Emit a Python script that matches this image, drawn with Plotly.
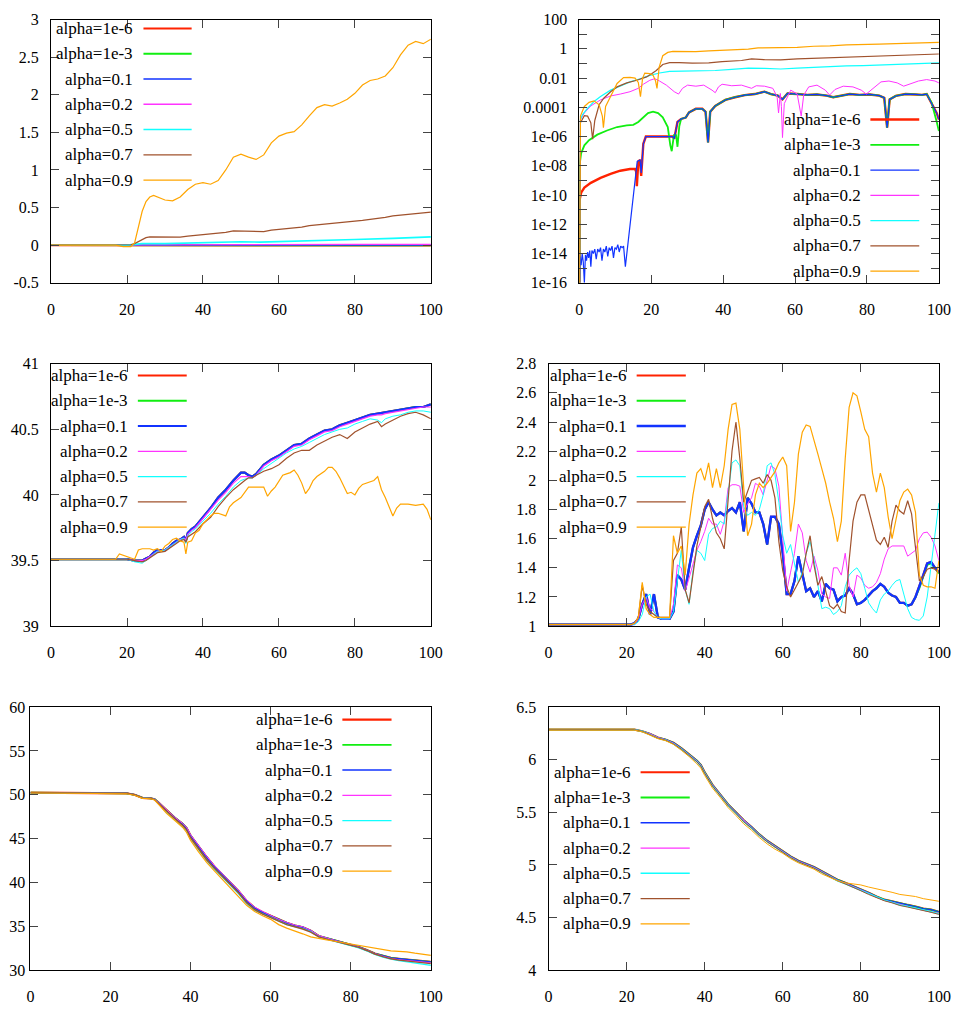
import plotly.graph_objects as go

# page is 971x1017 with the browser's 8px body margin -> figure is 16px smaller
OFF = 8
W, H = 971 - 2 * OFF, 1017 - 2 * OFF
FONT = "Liberation Serif, Times New Roman, Times, serif"

labels = ["alpha=1e-6", "alpha=1e-3", "alpha=0.1", "alpha=0.2",
          "alpha=0.5", "alpha=0.7", "alpha=0.9"]
colors = ["#ff2200", "#11ee11", "#1133ff", "#ff33ff", "#11ffff", "#a0522d", "#ffa500"]

x_ticks = [0, 20, 40, 60, 80, 100]

# ---------------- panel 1 (top left) ----------------
p1_x_flat = [0, 20, 22, 40, 60, 80, 100]
p1_a1e6 = [0.0, 0.0, -0.003, -0.004, -0.004, -0.004, -0.004]
p1_a1e3 = [0.0, 0.0, -0.002, -0.003, -0.003, -0.003, -0.003]
p1_a01 = [0.0, 0.0, 0.0, 0.0, 0.0, 0.0, 0.0]
p1_a02 = [0.0, 0.0, 0.002, 0.005, 0.007, 0.009, 0.011]
p1_x_c = [0, 20, 22, 24, 30, 40, 50, 55, 60, 70, 80, 90, 100]
p1_a05 = [0.0, 0.0, 0.01, 0.02, 0.02, 0.03, 0.045, 0.04, 0.045, 0.06, 0.075, 0.09, 0.11]
p1_x = [0, 10, 17, 19, 21, 22, 23, 24, 25, 26, 27, 28,
        30, 32, 34, 36, 38, 40, 42, 44, 46, 48, 50, 52, 54, 56, 58, 60,
        62, 64, 66, 68, 70, 72, 74, 76, 78, 80, 82, 84, 86, 88, 90, 92,
        94, 96, 98, 100]
p1_a07 = [0.0, 0.0, 0.0, 0.005, 0.005, 0.02, 0.05, 0.08, 0.10, 0.11, 0.11, 0.105,
          0.10, 0.10, 0.105, 0.12, 0.13, 0.14, 0.145, 0.15, 0.17, 0.19, 0.19, 0.18,
          0.18, 0.18, 0.20, 0.21, 0.22, 0.23, 0.24, 0.26, 0.27, 0.28, 0.28, 0.29,
          0.31, 0.32, 0.33, 0.34, 0.35, 0.37, 0.39, 0.40, 0.41, 0.42, 0.43, 0.44]
p1_a09 = [0.0, 0.0, 0.0, -0.02, -0.02, 0.03, 0.25, 0.45, 0.58, 0.64, 0.66, 0.64,
          0.60, 0.59, 0.64, 0.74, 0.81, 0.83, 0.81, 0.86, 1.0, 1.17, 1.21, 1.17,
          1.14, 1.20, 1.36, 1.45, 1.49, 1.51, 1.60, 1.72, 1.83, 1.87, 1.85, 1.89,
          1.94, 2.02, 2.13, 2.19, 2.21, 2.25, 2.36, 2.53, 2.66, 2.71, 2.68, 2.74]

# ---------------- panel 2 (top right, log scale) ----------------
p2_x_head_1e6 = [0, 0.1, 0.5, 1.4, 3.2, 5.9, 8.7, 11.4, 14.1, 15.5, 15.8, 16.0, 16.4, 16.9, 17.2]
p2_head_1e6 = [1e-17, 5.0e-11, 1.45e-10, 3.2e-10, 6.8e-10, 1.5e-9, 2.75e-9, 4.6e-9,
               6.0e-9, 6.0e-9, 4.0e-9, 4.0e-10, 2.0e-8, 2.5e-8, 2.0e-9]
p2_x_head_01 = [0, 0.2, 0.5, 0.8, 1.1, 1.4, 1.7, 2.0, 2.3, 2.6, 2.9, 3.2, 3.5, 3.9,
                4.3, 4.7, 5.1, 5.5, 5.9, 6.3, 6.7, 7.1, 7.5, 7.9, 8.3, 8.7, 9.1, 9.5,
                9.9, 10.3, 10.7, 11.1, 11.5, 11.9, 12.3, 12.6, 12.8, 16.1, 16.9, 17.2]
p2_head_01 = [1e-17, 6.3e-15, 1.6e-15, 1.0e-14, 2.5e-15, 1.0e-16, 7.9e-15, 3.2e-15,
              1.26e-14, 5.0e-15, 1.6e-14, 1.26e-15, 1.6e-14, 1.0e-14, 2.0e-14, 4.0e-15,
              2.0e-14, 1.26e-14, 2.5e-14, 3.2e-15, 2.0e-14, 1.26e-14, 3.2e-14, 6.3e-15,
              2.5e-14, 1.6e-14, 3.2e-14, 5.0e-15, 2.5e-14, 2.0e-14, 4.0e-14, 1.26e-14,
              3.2e-14, 2.5e-14, 3.2e-14, 5.0e-15, 1.26e-15, 2.0e-8, 2.5e-8, 3.2e-9]
p2_x_mid = [17.8, 18.5, 20.5, 23.2, 25.0, 26.0, 26.4, 27.3]
p2_mid = [3.2e-7, 1.0e-6, 1.0e-6, 8.9e-7, 8.9e-7, 1.0e-6, 7.1e-7, 1.0e-5]
p2_x_head_1e3 = [0, 0.1, 0.5, 1.4, 2.7, 5.0, 7.7, 10.5, 13.2, 15.0, 16.4, 17.8, 19.1,
                 20.5, 21.9, 23.2, 24.6, 25.3, 25.7, 26.3, 26.9, 27.3, 27.8]
p2_head_1e3 = [1e-17, 1.26e-8, 7.1e-8, 2.5e-7, 5.6e-7, 1.35e-6, 2.6e-6, 4.5e-6, 5.75e-6,
               6.3e-6, 1.0e-5, 2.1e-5, 4.0e-5, 5.0e-5, 4.0e-5, 2.1e-5, 4.5e-6, 2.5e-7,
               1.0e-7, 1.26e-6, 1.26e-6, 2.0e-7, 5.0e-6]
p2_x_tail = [28.3, 29.6, 30.5, 32.4, 34.2, 35.1, 35.8, 36.4, 37.8, 40.6, 43.3, 46.0,
             48.8, 51.5, 53.3, 55.2, 56.5, 57.9, 60.6, 63.4, 66.1, 68.8, 70.6, 72.5,
             75.2, 77.9, 80.7, 83.4, 84.8, 85.6, 86.3, 88.0, 90.7, 93.4, 95.3, 96.6, 98.0]
p2_tail = [1.6e-5, 2.0e-5, 4.5e-5, 7.9e-5, 7.9e-5, 5.0e-5, 4.0e-7, 5.0e-5, 1.26e-4,
           3.2e-4, 4.9e-4, 6.9e-4, 8.1e-4, 1.17e-3, 8.1e-4, 6.3e-4, 3.5e-4, 8.9e-4,
           8.1e-4, 7.1e-4, 7.6e-4, 6.3e-4, 4.9e-4, 6.3e-4, 8.1e-4, 7.1e-4, 7.6e-4,
           6.3e-4, 4.5e-4, 4.0e-6, 3.5e-4, 6.0e-4, 8.1e-4, 7.6e-4, 7.1e-4, 8.1e-4, 2.0e-4]
p2_x_end = [99.4, 100]
p2_end_01 = [4.0e-5, 1.45e-5]
p2_end_1e3 = [1.0e-5, 2.4e-6]
p2_x_a02 = [0, 0.3, 1.4, 3.2, 5.9, 8.7, 11.4, 14.1, 16.4, 17.8, 19.6, 21.0, 22.3, 24.2,
            26.4, 27.6, 28.7, 30.1, 32.4, 34.6, 36.9, 37.8, 38.7, 39.7, 42.4, 45.1, 47.9,
            49.2, 51.5, 53.8, 55.0, 55.4, 55.9, 56.2, 56.5, 57.0, 58.8, 60.6, 61.7, 62.4,
            63.8, 66.1, 68.4, 69.6, 71.1, 73.4, 76.1, 78.4, 79.8, 81.6, 83.9, 86.1, 88.4,
            90.2, 92.5, 94.3, 96.6, 98.9, 100]
p2_a02 = [1e-17, 1.45e-5, 4.1e-5, 1.26e-4, 3.2e-4, 6.0e-4, 8.1e-4, 1.17e-3, 2.0e-3,
          3.8e-3, 7.1e-3, 9.1e-3, 6.3e-3, 3.3e-3, 1.17e-3, 8.1e-4, 2.0e-3, 3.3e-3, 2.8e-3,
          3.3e-3, 1.5e-3, 1.0e-3, 2.5e-3, 3.8e-3, 3.0e-3, 3.3e-3, 2.0e-3, 3.0e-3, 2.8e-3,
          2.0e-3, 5.4e-4, 4.1e-5, 8.9e-4, 1.12e-4, 8.5e-7, 1.8e-4, 1.5e-3, 8.1e-4, 2.5e-5,
          6.9e-4, 2.5e-3, 3.3e-3, 1.5e-3, 6.9e-4, 1.66e-3, 2.8e-3, 2.5e-3, 1.5e-3, 8.1e-4,
          2.0e-3, 5.5e-3, 6.3e-3, 4.7e-3, 2.8e-3, 4.3e-3, 6.3e-3, 7.9e-3, 6.3e-3, 4.7e-3]
p2_x_a05 = [0, 0.3, 0.9, 2.3, 4.1, 5.9, 8.7, 11.4, 14.1, 16.9, 19.6, 22.3, 25.1, 28.7,
            33.3, 37.8, 42.4, 47.0, 51.5, 56.0, 60.6, 65.2, 69.7, 74.3, 78.9, 83.4, 88.0,
            92.5, 100]
p2_a05 = [1e-17, 1.45e-5, 3.2e-5, 8.9e-5, 2.5e-4, 5.4e-4, 1.5e-3, 2.8e-3, 5.5e-3, 9.1e-3,
          1.55e-2, 2.24e-2, 2.9e-2, 3.0e-2, 3.0e-2, 3.3e-2, 3.9e-2, 4.8e-2, 4.6e-2, 4.2e-2,
          4.8e-2, 5.6e-2, 6.2e-2, 6.9e-2, 7.2e-2, 7.9e-2, 8.3e-2, 9.3e-2, 0.11]
p2_x_a07 = [0, 0.3, 1.4, 2.3, 3.2, 3.7, 4.3, 5.5, 6.8, 8.7, 10.5, 13.2, 16.0, 17.3, 18.7,
            20.1, 21.4, 23.2, 25.1, 27.8, 31.4, 36.0, 39.7, 45.1, 47.9, 51.5, 56.0, 60.6,
            65.2, 69.7, 74.3, 78.9, 83.4, 88.0, 92.5, 100]
p2_a07 = [1e-17, 8.7e-6, 2.7e-5, 2.5e-5, 8.7e-6, 6.6e-7, 1.26e-5, 1.5e-4, 4.2e-4, 1.17e-3,
          2.5e-3, 4.7e-3, 7.1e-3, 9.5e-3, 1.2e-2, 2.0e-2, 3.3e-2, 8.5e-2, 0.115, 0.115,
          0.105, 0.11, 0.135, 0.16, 0.204, 0.182, 0.174, 0.204, 0.224, 0.263, 0.288,
          0.288, 0.339, 0.355, 0.398, 0.447]
p2_x_a09 = [0, 0.3, 1.4, 2.7, 4.1, 5.5, 6.4, 6.7, 7.3, 8.7, 10.5, 12.3, 14.1, 15.5, 16.4,
            17.0, 17.6, 18.2, 19.6, 20.5, 21.2, 21.6, 22.2, 23.2, 24.6, 26.0, 28.7, 32.4,
            36.0, 39.7, 43.3, 47.0, 49.7, 53.3, 56.0, 60.6, 65.2, 69.7, 74.3, 78.9, 83.4,
            88.0, 92.5, 96.2, 100]
p2_a09 = [1e-17, 2.5e-5, 1.15e-4, 2.2e-4, 2.75e-4, 1.5e-4, 2.5e-5, 4.0e-6, 1.15e-4, 6.0e-4,
          4.3e-3, 1.07e-2, 1.12e-2, 1.0e-2, 5.0e-3, 5.4e-4, 1.0e-2, 2.2e-2, 2.0e-2, 1.6e-2,
          6.3e-3, 1.95e-3, 5.6e-2, 0.34, 0.575, 0.68, 0.68, 0.65, 0.74, 0.81, 0.81, 0.95,
          1.17, 1.17, 1.12, 1.26, 1.51, 1.58, 1.86, 1.86, 2.09, 2.29, 2.51, 2.82, 2.82]

# ---------------- panel 3 (middle left) ----------------
p3_x = [0, 10, 20, 22, 24, 25, 26, 27, 28, 30, 31, 32, 33, 34, 35, 35.5, 36, 37, 38, 40,
        42, 44, 46, 48, 50, 51, 52, 53, 54, 56, 58, 60, 62, 64, 66, 68, 70, 72, 74, 76,
        78, 80, 82, 84, 86, 87, 88, 90, 92, 94, 96, 98, 100]
p3_a1e6 = [39.51, 39.51, 39.51, 39.50, 39.50, 39.515, 39.53, 39.56, 39.58, 39.58, 39.60,
           39.63, 39.65, 39.66, 39.68, 39.65, 39.71, 39.74, 39.76, 39.83, 39.90, 39.98,
           40.04, 40.11, 40.17, 40.17, 40.15, 40.14, 40.16, 40.23, 40.27, 40.30, 40.34,
           40.38, 40.39, 40.43, 40.46, 40.49, 40.50, 40.53, 40.55, 40.57, 40.59, 40.61,
           40.62, 40.625, 40.63, 40.64, 40.65, 40.66, 40.67, 40.67, 40.69]
p3_a1e3 = [39.51, 39.51, 39.51, 39.50, 39.50, 39.515, 39.53, 39.56, 39.58, 39.58, 39.60,
           39.63, 39.65, 39.66, 39.68, 39.65, 39.71, 39.74, 39.76, 39.83, 39.90, 39.98,
           40.04, 40.11, 40.17, 40.17, 40.15, 40.14, 40.16, 40.23, 40.27, 40.30, 40.34,
           40.38, 40.39, 40.43, 40.46, 40.49, 40.50, 40.53, 40.55, 40.57, 40.59, 40.61,
           40.62, 40.625, 40.63, 40.64, 40.65, 40.66, 40.67, 40.67, 40.69]
p3_a01 = [39.51, 39.51, 39.51, 39.50, 39.50, 39.515, 39.53, 39.56, 39.58, 39.58, 39.60,
          39.63, 39.65, 39.66, 39.68, 39.65, 39.71, 39.74, 39.76, 39.83, 39.90, 39.98,
          40.04, 40.11, 40.17, 40.17, 40.15, 40.14, 40.16, 40.23, 40.27, 40.30, 40.34,
          40.38, 40.39, 40.43, 40.46, 40.49, 40.50, 40.53, 40.55, 40.57, 40.59, 40.61,
          40.62, 40.625, 40.63, 40.64, 40.65, 40.66, 40.67, 40.67, 40.69]
p3_a02 = [39.51, 39.51, 39.51, 39.50, 39.50, 39.51, 39.53, 39.55, 39.57, 39.58, 39.60,
          39.62, 39.64, 39.66, 39.67, 39.66, 39.70, 39.73, 39.75, 39.82, 39.89, 39.96,
          40.02, 40.09, 40.14, 40.14, 40.14, 40.13, 40.15, 40.22, 40.26, 40.29, 40.33,
          40.37, 40.38, 40.42, 40.45, 40.48, 40.49, 40.52, 40.54, 40.56, 40.58, 40.60,
          40.61, 40.61, 40.62, 40.63, 40.64, 40.65, 40.66, 40.67, 40.67]
p3_a05 = [39.51, 39.51, 39.51, 39.49, 39.48, 39.50, 39.52, 39.55, 39.57, 39.58, 39.60,
          39.62, 39.64, 39.66, 39.67, 39.63, 39.69, 39.72, 39.74, 39.80, 39.86, 39.93,
          39.99, 40.06, 40.11, 40.12, 40.13, 40.13, 40.15, 40.20, 40.24, 40.28, 40.32,
          40.35, 40.37, 40.40, 40.43, 40.46, 40.48, 40.50, 40.51, 40.54, 40.56, 40.58,
          40.57, 40.55, 40.58, 40.60, 40.61, 40.63, 40.64, 40.64, 40.63]
p3_a07 = [39.51, 39.51, 39.51, 39.50, 39.49, 39.50, 39.52, 39.54, 39.56, 39.57, 39.59,
          39.61, 39.63, 39.65, 39.66, 39.64, 39.68, 39.70, 39.72, 39.78, 39.83, 39.91,
          39.98, 40.04, 40.09, 40.11, 40.13, 40.13, 40.15, 40.18, 40.20, 40.23, 40.28,
          40.32, 40.34, 40.34, 40.38, 40.41, 40.44, 40.46, 40.43, 40.48, 40.51, 40.54,
          40.56, 40.52, 40.54, 40.57, 40.60, 40.62, 40.63, 40.61, 40.58]
p3_x_09 = [0, 10, 17, 18, 20, 22, 23, 24, 25, 26, 27, 28, 29, 30, 31, 32, 33, 34, 35, 35.5,
           36, 37, 38, 39, 40, 41, 42, 43, 44, 46, 47, 48, 50, 52, 54, 56, 57, 58, 59, 61,
           62, 63, 64, 65, 66, 67, 68, 69, 70, 72, 73, 74, 75, 76, 78, 79, 80, 81, 82, 84,
           85, 86, 87, 88, 89, 90, 91, 92, 94, 96, 98, 99, 100]
p3_a09 = [39.51, 39.51, 39.51, 39.55, 39.53, 39.51, 39.58, 39.59, 39.59, 39.59, 39.58,
          39.59, 39.57, 39.61, 39.63, 39.66, 39.67, 39.65, 39.64, 39.55, 39.64, 39.65,
          39.71, 39.73, 39.78, 39.81, 39.84, 39.86, 39.86, 39.84, 39.91, 39.94, 39.98,
          40.06, 40.06, 40.06, 39.99, 40.03, 40.06, 40.15, 40.16, 40.17, 40.19, 40.15,
          40.09, 40.01, 40.05, 40.11, 40.14, 40.18, 40.21, 40.21, 40.18, 40.13, 40.01,
          40.02, 40.00, 40.05, 40.08, 40.10, 40.11, 40.14, 40.04, 39.98, 39.91, 39.84,
          39.90, 39.93, 39.93, 39.92, 39.93, 39.89, 39.81]

# ---------------- panel 4 (middle right) ----------------
p4_x = [0, 10, 20, 21, 22, 23, 24, 25, 26, 27, 28, 29, 30, 31, 32, 33, 34, 35, 36, 37, 38,
        39, 40, 41, 42, 43, 44, 45, 46, 47, 48, 49, 50, 51, 52, 53, 54, 55, 56, 57, 58, 59,
        60, 61, 62, 63, 64, 65, 66, 67, 68, 69, 70, 71, 72, 73, 74, 75, 76, 77, 78, 79, 80,
        81, 82, 83, 84, 85, 86, 87, 88, 89, 90, 91, 92, 93, 94, 95, 96, 97, 98, 99, 100]
p4_a1e6 = [1.01, 1.01,
           1.01, 1.01, 1.02, 1.05, 1.15, 1.22, 1.08, 1.22, 1.06, 1.05,
           1.05, 1.05, 1.10, 1.35, 1.32, 1.25, 1.40, 1.54, 1.62, 1.69,
           1.80, 1.85, 1.80, 1.76, 1.78, 1.76, 1.79, 1.81, 1.78, 1.85,
           1.65, 1.88, 1.84, 1.78, 1.78, 1.70, 1.56, 1.75, 1.75, 1.70,
           1.50, 1.22, 1.22, 1.31, 1.48, 1.37, 1.24, 1.26, 1.20, 1.24,
           1.17, 1.29, 1.26, 1.25, 1.17, 1.20, 1.21, 1.26, 1.22, 1.15,
           1.16, 1.18, 1.21, 1.24, 1.26, 1.29, 1.27, 1.23, 1.21, 1.20,
           1.16, 1.16, 1.14, 1.15, 1.20, 1.27, 1.35, 1.43, 1.44, 1.40, 1.37]
p4_a1e3 = [1.01, 1.01,
           1.01, 1.01, 1.02, 1.05, 1.15, 1.22, 1.08, 1.22, 1.06, 1.05,
           1.05, 1.05, 1.10, 1.35, 1.32, 1.25, 1.40, 1.54, 1.62, 1.69,
           1.80, 1.85, 1.80, 1.76, 1.78, 1.76, 1.79, 1.81, 1.78, 1.85,
           1.65, 1.88, 1.84, 1.78, 1.78, 1.70, 1.56, 1.75, 1.75, 1.70,
           1.50, 1.22, 1.22, 1.31, 1.48, 1.37, 1.24, 1.26, 1.20, 1.24,
           1.17, 1.29, 1.26, 1.25, 1.17, 1.20, 1.21, 1.26, 1.22, 1.15,
           1.16, 1.18, 1.21, 1.24, 1.26, 1.29, 1.27, 1.23, 1.21, 1.20,
           1.16, 1.16, 1.14, 1.15, 1.20, 1.26, 1.34, 1.42, 1.43, 1.40, 1.36]
p4_a01 = [1.01, 1.01,
          1.01, 1.01, 1.02, 1.05, 1.15, 1.22, 1.08, 1.22, 1.06, 1.05,
          1.05, 1.05, 1.10, 1.35, 1.32, 1.25, 1.40, 1.54, 1.62, 1.69,
          1.80, 1.85, 1.80, 1.76, 1.78, 1.76, 1.79, 1.81, 1.78, 1.85,
          1.65, 1.88, 1.84, 1.78, 1.78, 1.70, 1.56, 1.75, 1.75, 1.70,
          1.50, 1.22, 1.22, 1.31, 1.48, 1.37, 1.24, 1.26, 1.20, 1.24,
          1.17, 1.29, 1.26, 1.25, 1.17, 1.20, 1.21, 1.26, 1.22, 1.15,
          1.16, 1.18, 1.21, 1.24, 1.26, 1.29, 1.27, 1.23, 1.21, 1.20,
          1.16, 1.16, 1.14, 1.15, 1.20, 1.27, 1.35, 1.43, 1.44, 1.40, 1.37]
p4_a02 = [1.01, 1.01,
          1.01, 1.01, 1.01, 1.05, 1.15, 1.20, 1.12, 1.10, 1.06, 1.05,
          1.05, 1.05, 1.15, 1.42, 1.40, 1.24, 1.33, 1.42, 1.52, 1.58,
          1.65, 1.74, 1.70, 1.70, 1.63, 1.72, 1.95, 1.97, 1.97, 1.96,
          1.78, 1.84, 1.88, 1.98, 1.96, 1.90, 2.00, 2.10, 2.08, 1.96,
          1.60, 1.24, 1.37, 1.50, 1.70, 1.64, 1.45, 1.37, 1.48, 1.38,
          1.22, 1.20, 1.19, 1.40, 1.40, 1.35, 1.50, 1.28, 1.20, 1.35,
          1.33, 1.28, 1.26, 1.27, 1.30, 1.36, 1.46, 1.53, 1.55, 1.55,
          1.55, 1.55, 1.48, 1.50, 1.52, 1.60, 1.64, 1.645, 1.61, 1.55, 1.45]
p4_a05 = [1.01, 1.01,
          1.01, 1.01, 1.01, 1.03, 1.08, 1.20, 1.22, 1.10, 1.06, 1.05,
          1.05, 1.05, 1.10, 1.30, 1.52, 1.25, 1.15, 1.38, 1.52, 1.50,
          1.45, 1.63, 1.67, 1.68, 1.72, 1.70, 1.90, 2.12, 2.14, 2.10,
          1.82, 1.76, 1.78, 1.76, 1.80, 1.90, 2.10, 2.12, 2.04, 1.85,
          1.62, 1.50, 1.56, 1.42, 1.30, 1.37, 1.50, 1.58, 1.46, 1.28,
          1.12, 1.13, 1.12, 1.08, 1.10, 1.14, 1.27, 1.35, 1.38, 1.40,
          1.36, 1.26, 1.16, 1.12, 1.09, 1.18, 1.22, 1.24, 1.28, 1.31,
          1.32, 1.22, 1.12, 1.06, 1.045, 1.04, 1.07, 1.20, 1.42, 1.65, 1.845]
p4_a07 = [1.01, 1.01,
          1.01, 1.01, 1.02, 1.06, 1.28, 1.15, 1.10, 1.08, 1.06, 1.06,
          1.06, 1.06, 1.45, 1.50, 1.68, 1.25, 1.16, 1.35, 1.55, 1.68,
          1.82, 1.87, 1.74, 1.64, 1.60, 1.53, 1.85, 2.20, 2.40, 2.15,
          1.85, 1.93, 2.00, 2.01, 2.02, 1.98, 2.04, 2.00, 1.88, 1.58,
          1.38, 1.27, 1.20, 1.25, 1.30, 1.35, 1.50, 1.62, 1.42, 1.28,
          1.34, 1.24, 1.14, 1.12, 1.15, 1.10, 1.09, 1.45, 1.72, 1.85,
          1.90, 1.90, 1.80, 1.69, 1.59, 1.56, 1.61, 1.54, 1.72, 1.83,
          1.79, 1.77, 1.86, 1.77, 1.55, 1.31, 1.34, 1.39, 1.40, 1.39, 1.37]
p4_a09 = [1.01, 1.01,
          1.01, 1.01, 1.02, 1.06, 1.30, 1.12, 1.08, 1.06, 1.06, 1.06,
          1.06, 1.06, 1.62, 1.50, 1.55, 1.35, 1.70, 1.90, 2.05, 2.08,
          2.00, 2.12, 1.95, 2.08, 1.95, 2.10, 2.35, 2.52, 2.53, 2.35,
          1.95, 1.62, 1.70, 1.90, 1.98, 1.95, 1.98, 2.02, 2.06, 2.12,
          2.16, 2.10, 1.65, 1.85, 2.18, 2.33, 2.38, 2.37, 2.28, 2.18,
          2.08, 1.98, 1.85, 1.74, 1.58, 1.72, 2.15, 2.50, 2.60, 2.58,
          2.47, 2.35, 2.30, 2.05, 1.92, 2.05, 1.95, 1.75, 1.60, 1.72,
          1.86, 1.92, 1.94, 1.90, 1.78, 1.35, 1.28, 1.27, 1.27, 1.26, 1.45]

# ---------------- panel 5 (bottom left) ----------------
p5_x = [0, 10, 20, 23, 24, 26, 28, 30, 31, 32, 34, 36, 38, 39, 40, 42, 44, 46, 48, 50,
        52, 54, 56, 58, 60, 62, 64, 66, 68, 70, 72, 74, 76, 78, 80, 82, 84, 86, 88, 90,
        92, 94, 96, 98, 100]
p5_a1e6 = [50.25, 50.25, 50.25, 50.25, 50.17, 50.0, 49.65, 49.6, 49.5, 49.1, 48.2, 47.4,
           46.7, 46.2, 45.35, 44.1, 42.9, 41.8, 40.9, 40.0, 39.0, 37.9, 37.1, 36.6, 36.2,
           35.75, 35.4, 35.1, 34.9, 34.5, 33.9, 33.65, 33.4, 33.15, 32.9, 32.65, 32.3,
           31.9, 31.65, 31.4, 31.3, 31.2, 31.1, 31.05, 30.95]
p5_a1e3 = [50.25, 50.25, 50.25, 50.25, 50.17, 50.0, 49.65, 49.6, 49.5, 49.1, 48.2, 47.4,
           46.7, 46.2, 45.35, 44.1, 42.9, 41.8, 40.9, 40.0, 39.0, 37.9, 37.1, 36.6, 36.2,
           35.75, 35.4, 35.1, 34.9, 34.5, 33.9, 33.65, 33.4, 33.15, 32.9, 32.65, 32.3,
           31.9, 31.65, 31.4, 31.3, 31.2, 31.1, 31.05, 30.95]
p5_a01 = [50.25, 50.25, 50.25, 50.25, 50.17, 50.0, 49.65, 49.6, 49.5, 49.1, 48.2, 47.4,
          46.7, 46.2, 45.35, 44.1, 42.9, 41.8, 40.9, 40.0, 39.0, 37.9, 37.1, 36.6, 36.2,
          35.75, 35.4, 35.1, 34.9, 34.5, 33.9, 33.65, 33.4, 33.15, 32.9, 32.65, 32.3,
          31.9, 31.65, 31.4, 31.3, 31.2, 31.1, 31.05, 30.95]
p5_a02 = [50.25, 50.25, 50.25, 50.25, 50.17, 50.0, 49.65, 49.6, 49.5, 49.15, 48.25, 47.45,
          46.75, 46.3, 45.45, 44.2, 43.0, 41.9, 41.0, 40.1, 39.1, 38.0, 37.2, 36.7, 36.25,
          35.8, 35.45, 35.15, 34.95, 34.55, 33.95, 33.65, 33.4, 33.15, 32.9, 32.65, 32.3,
          31.9, 31.6, 31.35, 31.2, 31.1, 31.0, 30.95, 30.85]
p5_a05 = [50.25, 50.25, 50.25, 50.25, 50.17, 50.0, 49.65, 49.6, 49.45, 49.0, 48.0, 47.2,
          46.4, 45.9, 45.0, 43.7, 42.5, 41.5, 40.6, 39.7, 38.7, 37.6, 36.8, 36.4, 36.0,
          35.55, 35.2, 34.95, 34.75, 34.4, 33.8, 33.55, 33.3, 33.05, 32.8, 32.55, 32.2,
          31.8, 31.5, 31.25, 31.1, 30.95, 30.8, 30.7, 30.55]
p5_a07 = [50.25, 50.25, 50.25, 50.25, 50.17, 50.0, 49.65, 49.6, 49.45, 49.0, 48.1, 47.3,
          46.5, 46.0, 45.1, 43.8, 42.6, 41.6, 40.7, 39.8, 38.8, 37.7, 36.9, 36.4, 36.0,
          35.6, 35.2, 34.95, 34.7, 34.35, 33.8, 33.55, 33.3, 33.05, 32.85, 32.6, 32.25,
          31.85, 31.55, 31.3, 31.15, 31.05, 30.95, 30.85, 30.75]
p5_a09 = [50.2, 50.2, 50.2, 50.2, 50.12, 49.95, 49.6, 49.55, 49.4, 48.9, 47.9, 47.1,
          46.3, 45.7, 44.8, 43.5, 42.3, 41.3, 40.3, 39.4, 38.4, 37.4, 36.7, 36.2, 35.8,
          35.2, 34.8, 34.5, 34.15, 33.8, 33.6, 33.45, 33.3, 33.15, 33.0, 32.85, 32.7,
          32.5, 32.35, 32.2, 32.15, 32.1, 31.95, 31.8, 31.7]

# ---------------- panel 6 (bottom right) ----------------
p6_x = [0, 10, 20, 22, 24, 26, 28, 30, 32, 34, 36, 38, 39, 40, 42, 44, 46, 48, 50, 52,
        54, 56, 58, 60, 62, 64, 66, 68, 70, 72, 74, 76, 78, 80, 82, 84, 86, 88, 90, 92,
        94, 96, 98, 100]
p6_a1e6 = [6.285, 6.285, 6.285, 6.285, 6.27, 6.245, 6.21, 6.19, 6.16, 6.11, 6.05, 5.99,
           5.95, 5.88, 5.76, 5.67, 5.575, 5.50, 5.425, 5.36, 5.29, 5.23, 5.18, 5.13, 5.08,
           5.04, 5.01, 4.98, 4.94, 4.90, 4.86, 4.83, 4.80, 4.765, 4.735, 4.70, 4.67,
           4.655, 4.635, 4.62, 4.605, 4.585, 4.575, 4.555]
p6_a1e3 = [6.285, 6.285, 6.285, 6.285, 6.27, 6.245, 6.21, 6.19, 6.16, 6.11, 6.05, 5.99,
           5.95, 5.88, 5.76, 5.67, 5.575, 5.50, 5.425, 5.36, 5.29, 5.23, 5.18, 5.13, 5.08,
           5.04, 5.01, 4.98, 4.94, 4.90, 4.86, 4.83, 4.80, 4.765, 4.735, 4.70, 4.67,
           4.655, 4.635, 4.62, 4.605, 4.585, 4.575, 4.555]
p6_a01 = [6.285, 6.285, 6.285, 6.285, 6.27, 6.245, 6.21, 6.19, 6.16, 6.11, 6.05, 5.99,
          5.95, 5.88, 5.76, 5.67, 5.575, 5.50, 5.425, 5.36, 5.29, 5.23, 5.18, 5.13, 5.08,
          5.04, 5.01, 4.98, 4.94, 4.90, 4.86, 4.83, 4.80, 4.765, 4.735, 4.70, 4.67,
          4.655, 4.635, 4.62, 4.605, 4.585, 4.575, 4.555]
p6_a02 = [6.285, 6.285, 6.285, 6.285, 6.27, 6.245, 6.21, 6.19, 6.155, 6.105, 6.045, 5.985,
          5.945, 5.875, 5.755, 5.665, 5.57, 5.495, 5.42, 5.355, 5.285, 5.225, 5.175, 5.125,
          5.075, 5.035, 5.005, 4.975, 4.935, 4.895, 4.855, 4.825, 4.795, 4.76, 4.73, 4.695,
          4.665, 4.645, 4.625, 4.605, 4.59, 4.57, 4.555, 4.54]
p6_a05 = [6.285, 6.285, 6.285, 6.285, 6.27, 6.24, 6.205, 6.185, 6.15, 6.10, 6.04, 5.98,
          5.94, 5.87, 5.75, 5.66, 5.565, 5.49, 5.41, 5.35, 5.28, 5.22, 5.17, 5.12, 5.07,
          5.03, 5.00, 4.97, 4.93, 4.89, 4.85, 4.82, 4.79, 4.76, 4.725, 4.695, 4.665,
          4.645, 4.62, 4.605, 4.59, 4.57, 4.555, 4.535]
p6_a07 = [6.285, 6.285, 6.285, 6.285, 6.27, 6.24, 6.205, 6.185, 6.15, 6.10, 6.04, 5.98,
          5.94, 5.87, 5.75, 5.66, 5.565, 5.49, 5.41, 5.35, 5.28, 5.22, 5.17, 5.12, 5.07,
          5.03, 5.00, 4.97, 4.93, 4.89, 4.85, 4.82, 4.79, 4.755, 4.72, 4.69, 4.66,
          4.64, 4.615, 4.60, 4.585, 4.565, 4.55, 4.53]
p6_a09 = [6.28, 6.28, 6.28, 6.28, 6.265, 6.235, 6.20, 6.18, 6.145, 6.09, 6.03, 5.96,
          5.92, 5.85, 5.73, 5.64, 5.545, 5.47, 5.39, 5.33, 5.26, 5.20, 5.15, 5.11, 5.06,
          5.02, 4.99, 4.96, 4.915, 4.88, 4.85, 4.83, 4.82, 4.81, 4.79, 4.775, 4.76,
          4.74, 4.72, 4.71, 4.70, 4.68, 4.67, 4.655]

# y tick labels
p1_yticks = [-0.5, 0, 0.5, 1, 1.5, 2, 2.5, 3]
p1_ytext = ["-0.5", "0", "0.5", "1", "1.5", "2", "2.5", "3"]
p2_yticks = [1e-16, 1e-15, 1e-14, 1e-13, 1e-12, 1e-11, 1e-10, 1e-9, 1e-8, 1e-7,
             1e-6, 1e-5, 1e-4, 1e-3, 1e-2, 1e-1, 1, 10, 100]
p2_ytext = ["1e-16", "", "1e-14", "", "1e-12", "", "1e-10", "", "1e-08", "",
            "1e-06", "", "0.0001", "", "0.01", "", "1", "", "100"]
p3_yticks = [39, 39.5, 40, 40.5, 41]
p3_ytext = ["39", "39.5", "40", "40.5", "41"]
p4_yticks = [1, 1.2, 1.4, 1.6, 1.8, 2, 2.2, 2.4, 2.6, 2.8]
p4_ytext = ["1", "1.2", "1.4", "1.6", "1.8", "2", "2.2", "2.4", "2.6", "2.8"]
p5_yticks = [30, 35, 40, 45, 50, 55, 60]
p5_ytext = ["30", "35", "40", "45", "50", "55", "60"]
p6_yticks = [4, 4.5, 5, 5.5, 6, 6.5]
p6_ytext = ["4", "4.5", "5", "5.5", "6", "6.5"]

panels = [
    dict(xs=[p1_x_flat, p1_x_flat, p1_x_flat, p1_x_flat, p1_x_c, p1_x, p1_x],
         ys=[p1_a1e6, p1_a1e3, p1_a01, p1_a02, p1_a05, p1_a07, p1_a09],
         box=(47.7, 434, 11.7, 279.3), yrange=[-0.5, 3], ylog=False, ystand=8,
         yticks=p1_yticks, ytext=p1_ytext, widths=[2.2, 1.8, 1.2, 1.2, 1.6, 1.2, 1.2],
         key=(131, 141.7, 190.7, 20.7)),
    dict(xs=[p2_x_head_1e6 + p2_x_mid + p2_x_tail + p2_x_end,
             p2_x_head_1e3 + p2_x_tail + p2_x_end,
             p2_x_head_01 + p2_x_mid + p2_x_tail + p2_x_end,
             p2_x_a02, p2_x_a05, p2_x_a07, p2_x_a09],
         ys=[p2_head_1e6 + p2_mid + p2_tail + p2_end_01,
             p2_head_1e3 + p2_tail + p2_end_1e3,
             p2_head_01 + p2_mid + p2_tail + p2_end_01,
             p2_a02, p2_a05, p2_a07, p2_a09],
         box=(585, 950.7, 11.7, 279.3), yrange=[-16, 2], ylog=True, ystand=8,
         yticks=p2_yticks, ytext=p2_ytext, widths=[2.4, 1.8, 1.2, 1.0, 1.2, 1.2, 1.2],
         key=(871, 881, 930.7, 113.3)),
    dict(xs=[p3_x, p3_x, p3_x, p3_x, p3_x, p3_x, p3_x_09],
         ys=[p3_a1e6, p3_a1e3, p3_a01, p3_a02, p3_a05, p3_a07, p3_a09],
         box=(47.7, 434, 361.7, 628.7), yrange=[39, 41], ylog=False, ystand=8,
         yticks=p3_yticks, ytext=p3_ytext, widths=[2.2, 1.8, 2.2, 1.2, 1.0, 1.2, 1.2],
         key=(126, 136, 185.7, 373.7)),
    dict(xs=[p4_x] * 7,
         ys=[p4_a1e6, p4_a1e3, p4_a01, p4_a02, p4_a05, p4_a07, p4_a09],
         box=(553.7, 950.7, 361.7, 628.7), yrange=[1, 2.8], ylog=False, ystand=8,
         yticks=p4_yticks, ytext=p4_ytext, widths=[2.2, 1.8, 2.4, 1.0, 1.0, 1.2, 1.2],
         key=(633.3, 643.3, 693.3, 373.7)),
    dict(xs=[p5_x] * 7,
         ys=[p5_a1e6, p5_a1e3, p5_a01, p5_a02, p5_a05, p5_a07, p5_a09],
         box=(26.7, 434, 711, 978.7), yrange=[30, 60], ylog=False, ystand=1,
         yticks=p5_yticks, ytext=p5_ytext, widths=[2.2, 1.8, 1.4, 1.0, 1.2, 1.4, 1.2],
         key=(334, 344, 394, 723.7)),
    dict(xs=[p6_x] * 7,
         ys=[p6_a1e6, p6_a1e3, p6_a01, p6_a02, p6_a05, p6_a07, p6_a09],
         box=(553.7, 950.7, 711, 978.7), yrange=[4, 6.5], ylog=False, ystand=8,
         yticks=p6_yticks, ytext=p6_ytext, widths=[2.2, 1.8, 1.2, 1.2, 1.4, 1.0, 1.0],
         key=(637.7, 647.3, 697.3, 777.3)),
]

ROW = 25.7  # legend row spacing, px


def fx(px):
    return (px - OFF) / W


def fy(py):
    return 1 - (py - OFF) / H


fig = go.Figure()
layout = dict(width=W, height=H, margin=dict(l=0, r=0, t=0, b=0),
              paper_bgcolor="white", plot_bgcolor="white", showlegend=False,
              font=dict(family=FONT, size=16, color="black"))
shapes = []
annotations = []

axis_common = dict(ticks="inside", ticklen=8, tickwidth=1, tickcolor="#444",
                   showline=True, linecolor="black", linewidth=1, mirror="ticks",
                   showgrid=False, zeroline=False,
                   tickfont=dict(family=FONT, size=16, color="black"))

for i, p in enumerate(panels):
    n = "" if i == 0 else str(i + 1)
    l, r, t, b = p["box"]
    for k in range(7):
        fig.add_trace(go.Scatter(x=p["xs"][k], y=p["ys"][k], mode="lines",
                                 line=dict(color=colors[k], width=p["widths"][k]),
                                 xaxis="x" + n, yaxis="y" + n, hoverinfo="skip"))
    layout["xaxis" + n] = dict(axis_common, domain=[fx(l), fx(r)], range=[0, 100],
                               tickmode="array", tickvals=x_ticks,
                               ticktext=[str(v) for v in x_ticks],
                               anchor="y" + n, ticklabelstandoff=12)
    ya = dict(axis_common, domain=[fy(b), fy(t)], range=p["yrange"],
              tickmode="array", tickvals=p["yticks"], ticktext=p["ytext"],
              anchor="x" + n, ticklabelstandoff=p["ystand"])
    if p["ylog"]:
        ya["type"] = "log"
    layout["yaxis" + n] = ya

    tx, lx0, lx1, ry = p["key"]
    for k in range(7):
        yy = fy(ry + k * ROW)
        annotations.append(dict(x=fx(tx), y=yy, xref="paper", yref="paper",
                                text=labels[k], showarrow=False, xanchor="right",
                                yanchor="middle", xshift=2,
                                font=dict(family=FONT, size=17, color="black")))
        shapes.append(dict(type="line", xref="paper", yref="paper",
                           x0=fx(lx0), x1=fx(lx1), y0=yy, y1=yy,
                           line=dict(color=colors[k], width=max(p["widths"][k], 1.3))))

layout["shapes"] = shapes
layout["annotations"] = annotations
fig.update_layout(**layout)
fig.write_html("out.html")
